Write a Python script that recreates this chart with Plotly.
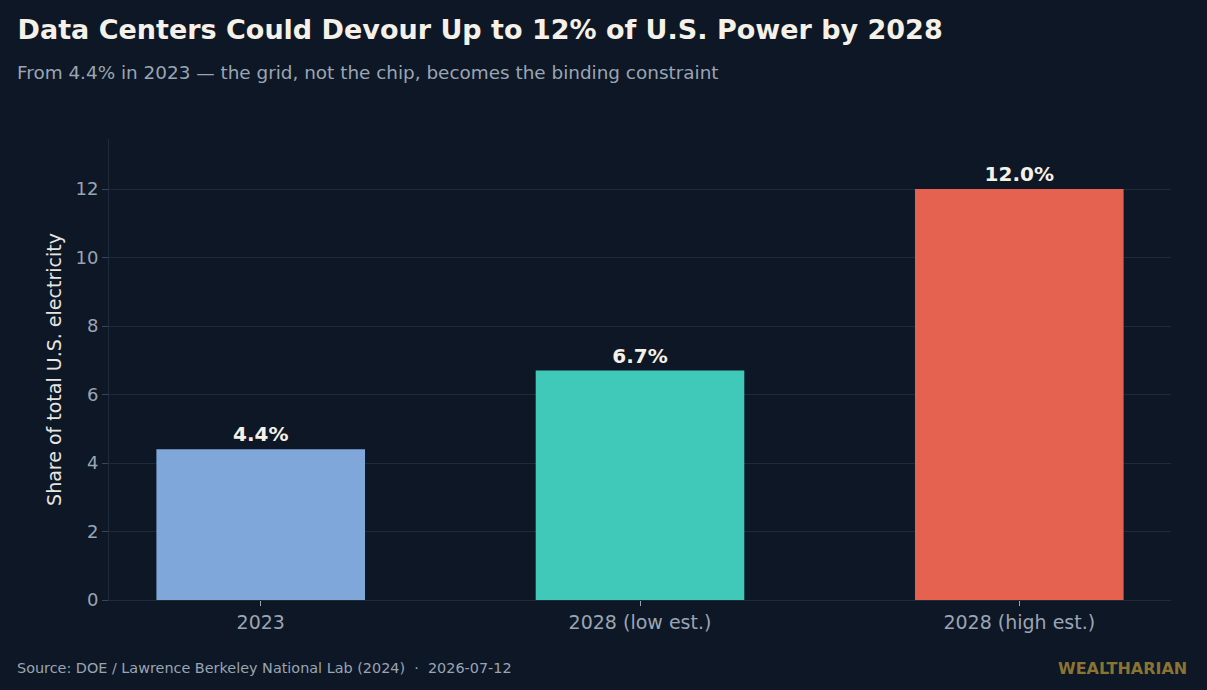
import plotly.graph_objects as go

categories = ["2023", "2028 (low est.)", "2028 (high est.)"]
values = [4.4, 6.7, 12.0]
bar_labels = ["4.4%", "6.7%", "12.0%"]
colors = ["#7fa7d9", "#40c9b9", "#e56250"]
y_ticks = [0, 2, 4, 6, 8, 10, 12]

BG = "#0e1725"
FONT = "DejaVu Sans"
LX = (15 - 109) / 1062

fig = go.Figure()
fig.add_trace(go.Bar(
    x=categories, y=values, width=0.55,
    marker=dict(color=colors, line=dict(width=0)),
    text=bar_labels, texttemplate="<b>%{text}</b>",
    textposition="outside", cliponaxis=False,
    textfont=dict(family=FONT, size=20, color="#f5f1e8"),
    hoverinfo="skip",
))

fig.update_layout(
    width=1207, height=690,
    paper_bgcolor=BG, plot_bgcolor=BG,
    margin=dict(l=109, r=36, t=139, b=90),
    showlegend=False,
    font=dict(family=FONT, color="#9aa5b4"),
    title=dict(
        text="<b>Data Centers Could Devour Up to 12% of U.S. Power by 2028</b>",
        x=0.0145, xanchor="left", y=0.957, yanchor="middle",
        font=dict(family=FONT, size=27, color="#f5f1e8"),
    ),
    xaxis=dict(
        range=[-0.4, 2.4], showgrid=False,
        ticks="outside", ticklen=5, tickcolor="#9aa5b4",
        tickfont=dict(family=FONT, size=19, color="#9aa5b4"),
        showline=True, linecolor="#1f2b3b", linewidth=1,
        zeroline=False,
    ),
    yaxis=dict(
        range=[0, 13.46], tickvals=y_ticks,
        gridcolor="#1f2b3b", gridwidth=1,
        ticks="outside", ticklen=6, tickcolor="#3a4658",
        tickfont=dict(family=FONT, size=18, color="#9aa5b4"),
        showline=True, linecolor="#1f2b3b", linewidth=1,
        zeroline=False,
        title=dict(text="Share of total U.S. electricity",
                   font=dict(family=FONT, size=19, color="#e8e6e0"), standoff=8),
    ),
    annotations=[
        dict(text="From 4.4% in 2023 — the grid, not the chip, becomes the binding constraint",
             xref="paper", yref="paper", x=LX, y=1.0 + (139 - 73) / 461,
             xanchor="left", yanchor="middle", showarrow=False,
             font=dict(family=FONT, size=18.4, color="#9aa5b4")),
        dict(text="Source: DOE / Lawrence Berkeley National Lab (2024)  ·  2026-07-12",
             xref="paper", yref="paper", x=LX, y=-(668 - 600) / 461,
             xanchor="left", yanchor="middle", showarrow=False,
             font=dict(family=FONT, size=14.4, color="#9aa5b4")),
        dict(text="<b>WEALTHARIAN</b>",
             xref="paper", yref="paper", x=1.0 + 18 / 1062, y=-(668 - 600) / 461,
             xanchor="right", yanchor="middle", showarrow=False,
             font=dict(family=FONT, size=16, color="#8a7433")),
    ],
)

fig.write_html("out.html")
